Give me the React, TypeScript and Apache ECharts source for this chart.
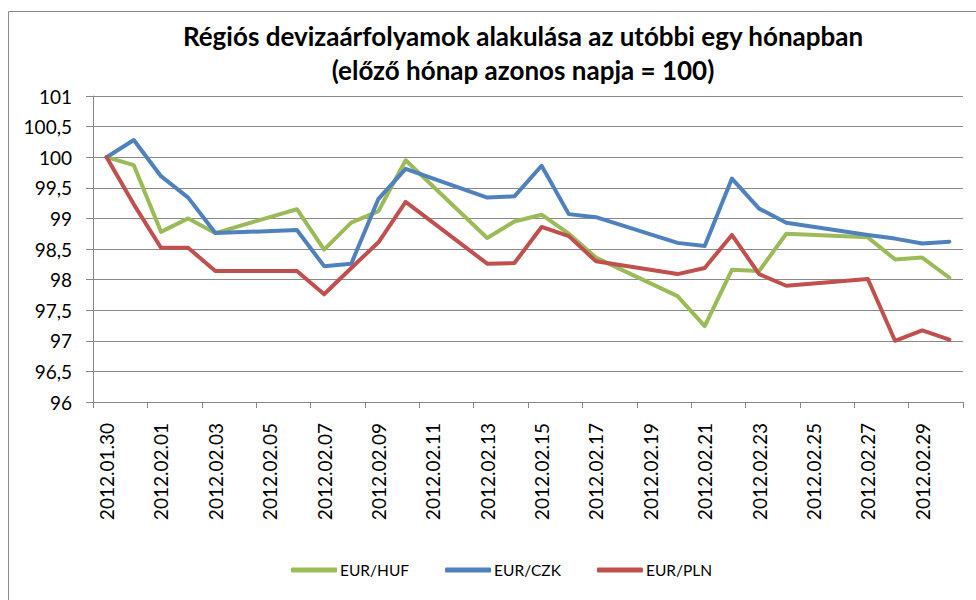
import React, { useEffect, useRef } from "react";
import * as echarts from "echarts";

const categories = [
  "2012.01.30", "2012.01.31", "2012.02.01", "2012.02.02", "2012.02.03", "2012.02.04",
  "2012.02.05", "2012.02.06", "2012.02.07", "2012.02.08", "2012.02.09", "2012.02.10",
  "2012.02.11", "2012.02.12", "2012.02.13", "2012.02.14", "2012.02.15", "2012.02.16",
  "2012.02.17", "2012.02.18", "2012.02.19", "2012.02.20", "2012.02.21", "2012.02.22",
  "2012.02.23", "2012.02.24", "2012.02.25", "2012.02.26", "2012.02.27", "2012.02.28",
  "2012.02.29", "2012.03.01",
];

const eurHuf = [
  100, 99.87, 98.78, 99.0, 98.76, null, null, 99.15, 98.49, 98.93, 99.12, 99.95,
  null, null, 98.68, 98.95, 99.06, 98.75, 98.36, null, null, 97.73, 97.24, 98.16,
  98.14, 98.75, null, null, 98.69, 98.33, 98.36, 98.03,
];

const eurCzk = [
  100, 100.28, 99.69, 99.34, 98.76, null, null, 98.81, 98.22, 98.26, 99.32, 99.81,
  null, null, 99.34, 99.36, 99.86, 99.07, 99.02, null, null, 98.6, 98.55, 99.65,
  99.16, 98.93, null, null, 98.73, 98.67, 98.59, 98.62,
];

const eurPln = [
  100, 99.23, 98.52, 98.52, 98.14, null, null, 98.14, 97.76, 98.19, 98.61, 99.27,
  null, null, 98.26, 98.27, 98.86, 98.71, 98.3, null, null, 98.09, 98.19, 98.73,
  98.09, 97.9, null, null, 98.01, 97.0, 97.17, 97.02,
];

const seriesNames = ["EUR/HUF", "EUR/CZK", "EUR/PLN"];
const seriesColors = ["#9BBB59", "#4F81BD", "#C0504D"];

const titleLines = [
  "Régiós devizaárfolyamok alakulása az utóbbi egy hónapban",
  "(előző hónap azonos napja = 100)",
];

export default function App() {
  const ref = useRef<HTMLDivElement>(null);

  useEffect(() => {
    if (!ref.current) return;
    const chart = echarts.init(ref.current, null, { renderer: "svg" });
    const font = "Lato";
    const dataSets = [eurHuf, eurCzk, eurPln];
    chart.setOption({
      animation: false,
      backgroundColor: "#ffffff",
      textStyle: { fontFamily: font },
      title: {
        text: titleLines.join("\n"),
        left: 523,
        top: 19,
        padding: 0,
        textAlign: "center",
        textStyle: {
          fontFamily: font,
          fontSize: 26,
          fontWeight: "bold",
          color: "#000000",
          lineHeight: 34,
        },
      },
      graphic: [
        {
          type: "rect",
          shape: { x: 8.5, y: 11.5, width: 1000, height: 1000 },
          style: { fill: "none", stroke: "#8c8c8c", lineWidth: 1 },
          silent: true,
        },
      ],
      legend: {
        data: seriesNames.map((n) => ({ name: n, icon: "roundRect" })),
        left: 286,
        top: 557,
        itemWidth: 46,
        itemHeight: 5,
        itemGap: 36,
        textStyle: { fontFamily: font, fontSize: 15.5, color: "#000000", padding: [0, 0, 0, -2] },
      },
      grid: { left: 93, right: 13, top: 96, bottom: 198, containLabel: false },
      xAxis: {
        type: "category",
        data: categories,
        boundaryGap: true,
        axisLine: { show: true, lineStyle: { color: "#868686", width: 1 } },
        axisTick: {
          show: true,
          interval: 1,
          alignWithLabel: false,
          length: 6,
          lineStyle: { color: "#868686" },
        },
        axisLabel: {
          interval: 1,
          rotate: 90,
          margin: 21,
          fontFamily: font,
          fontSize: 19,
          color: "#000000",
        },
        splitLine: { show: false },
      },
      yAxis: {
        type: "value",
        min: 96,
        max: 101,
        interval: 0.5,
        axisLine: { show: true, lineStyle: { color: "#868686", width: 1 } },
        axisTick: { show: true, length: 7, lineStyle: { color: "#868686" } },
        axisLabel: {
          margin: 21,
          fontFamily: font,
          fontSize: 19,
          color: "#000000",
          formatter: (v: number) => String(v).replace(".", ","),
        },
        splitLine: { show: true, lineStyle: { color: "#8a8a8a", width: 1.2 } },
      },
      series: seriesNames.map((name, i) => ({
        name,
        type: "line",
        data: dataSets[i],
        connectNulls: true,
        showSymbol: false,
        symbol: "none",
        smooth: false,
        color: seriesColors[i],
        lineStyle: { color: seriesColors[i], width: 4, join: "round", cap: "round" },
        itemStyle: { color: seriesColors[i] },
      })),
    });
    return () => chart.dispose();
  }, []);

  return (
    <div
      ref={ref}
      style={{ position: "absolute", left: 0, top: 0, width: 976, height: 600 }}
    />
  );
}
